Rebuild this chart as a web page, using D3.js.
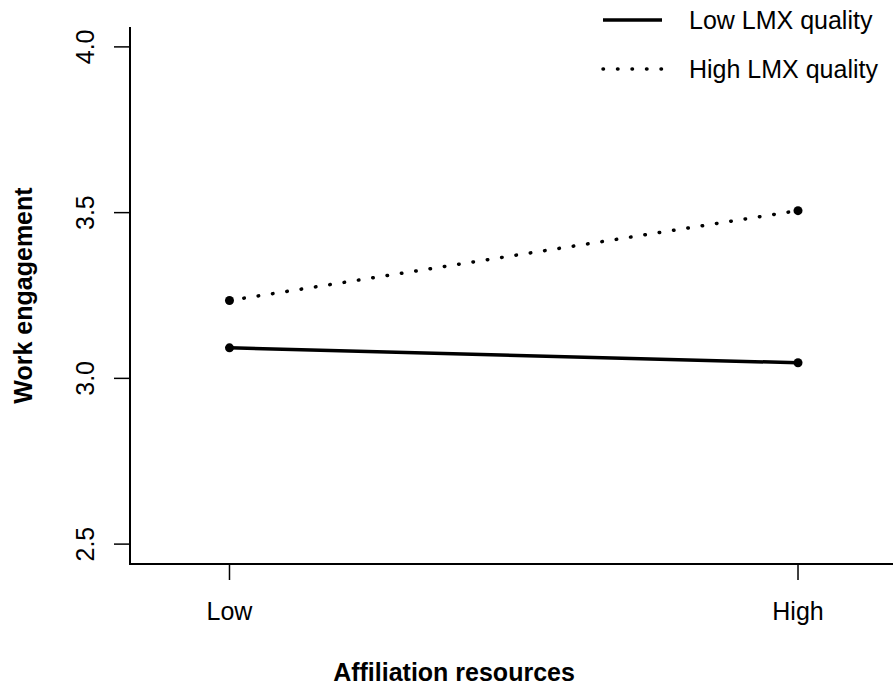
<!DOCTYPE html>
<html>
<head>
<meta charset="utf-8">
<script src="https://cdn.jsdelivr.net/npm/d3@7"></script>
<style>
  html, body { margin: 0; padding: 0; background: #fff; }
  svg { display: block; font-family: "Liberation Sans", Arial, sans-serif; }
</style>
</head>
<body>
<div id="chart"></div>
<script>
// data
const xCategories = ['Low', 'High'];
const seriesNames = ['Low LMX quality', 'High LMX quality'];
const lowLmxValues = [3.092, 3.047];
const highLmxValues = [3.235, 3.506];
const yTicks = [2.5, 3.0, 3.5, 4.0];

const W = 893, H = 686;
const fs = 25;

const svg = d3.select('#chart').append('svg')
  .attr('width', W)
  .attr('height', H);

// x: category index 1..2, wide limits like the base R plot
const x = d3.scaleLinear().domain([0.825, 2.175]).range([130, 897.5]);
const y = d3.scaleLinear().domain([2.44, 4.06]).range([564, 27]);

// axes lines (L shaped box)
svg.append('path')
  .attr('d', `M${x.range()[0]},${y.range()[1]} V${y.range()[0]} H${W}`)
  .attr('fill', 'none')
  .attr('stroke', '#000')
  .attr('stroke-width', 2);

// y ticks
const yAxis = svg.append('g');
yAxis.selectAll('line')
  .data(yTicks)
  .enter().append('line')
  .attr('x1', 114).attr('x2', 130)
  .attr('y1', d => y(d)).attr('y2', d => y(d))
  .attr('stroke', '#000').attr('stroke-width', 1.5);
yAxis.selectAll('text')
  .data(yTicks)
  .enter().append('text')
  .attr('transform', d => `translate(94,${y(d)}) rotate(-90)`)
  .attr('text-anchor', 'middle')
  .attr('font-size', fs)
  .text(d => d.toFixed(1));

// x ticks
const xAxis = svg.append('g');
xAxis.selectAll('line')
  .data(xCategories)
  .enter().append('line')
  .attr('x1', (d, i) => x(i + 1)).attr('x2', (d, i) => x(i + 1))
  .attr('y1', 564).attr('y2', 580)
  .attr('stroke', '#000').attr('stroke-width', 1.5);
xAxis.selectAll('text')
  .data(xCategories)
  .enter().append('text')
  .attr('x', (d, i) => x(i + 1))
  .attr('y', 620)
  .attr('text-anchor', 'middle')
  .attr('font-size', fs)
  .text(d => d);

// axis titles
svg.append('text')
  .attr('x', 454)
  .attr('y', 681)
  .attr('text-anchor', 'middle')
  .attr('font-size', fs)
  .attr('font-weight', 'bold')
  .text('Affiliation resources');

svg.append('text')
  .attr('transform', `translate(32,${(y.range()[0] + y.range()[1]) / 2}) rotate(-90)`)
  .attr('text-anchor', 'middle')
  .attr('font-size', fs)
  .attr('font-weight', 'bold')
  .text('Work engagement');

// lines
const series = [
  { name: seriesNames[0], values: lowLmxValues, dash: null },
  { name: seriesNames[1], values: highLmxValues, dash: '0.5 14' }
];

const line = d3.line()
  .x((d, i) => x(i + 1))
  .y(d => y(d));

series.forEach(s => {
  svg.append('path')
    .attr('d', line(s.values))
    .attr('fill', 'none')
    .attr('stroke', '#000')
    .attr('stroke-width', 3.5)
    .attr('stroke-linecap', s.dash ? 'round' : 'butt')
    .attr('stroke-dasharray', s.dash);

  svg.selectAll(null)
    .data(s.values)
    .enter().append('circle')
    .attr('cx', (d, i) => x(i + 1))
    .attr('cy', d => y(d))
    .attr('r', 4.5)
    .attr('fill', '#000');
});

// legend
const legend = svg.append('g');
series.forEach((s, i) => {
  const ly = 20 + i * 49;
  legend.append('line')
    .attr('x1', 603).attr('x2', 662)
    .attr('y1', ly).attr('y2', ly)
    .attr('stroke', '#000')
    .attr('stroke-width', 3.5)
    .attr('stroke-linecap', s.dash ? 'round' : 'butt')
    .attr('stroke-dasharray', s.dash);
  legend.append('text')
    .attr('x', 689)
    .attr('y', ly + 9)
    .attr('font-size', fs)
    .text(s.name);
});
</script>
</body>
</html>
